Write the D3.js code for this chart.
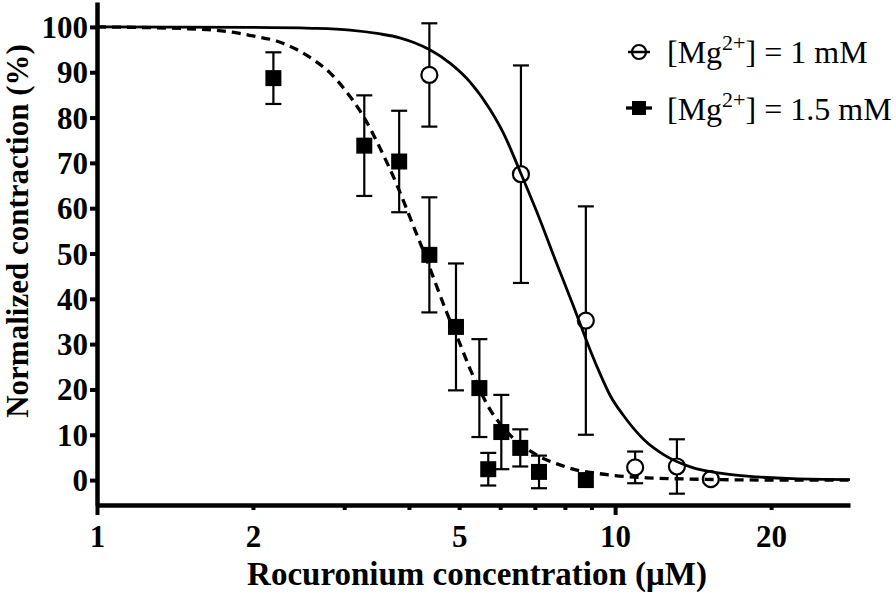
<!DOCTYPE html>
<html><head><meta charset="utf-8">
<script src="https://cdn.jsdelivr.net/npm/d3@7"></script>
<style>body{margin:0;background:#fff}</style>
</head><body><svg id="c" width="896" height="596"></svg>
<script>
// [Mg2+] = 1 mM (open circles)
const conc1 = [4.38, 6.58, 8.78, 10.93, 13.16, 15.3];
const mean1 = [89.4, 67.5, 35.2, 2.8, 3.0, 0.2];
const err1  = [11.4, 24.0, 25.2, 3.5, 6.0, 0];
// [Mg2+] = 1.5 mM (filled squares)
const conc15 = [2.19, 3.28, 3.83, 4.38, 4.93, 5.47, 5.69, 6.03, 6.56, 7.13, 8.78];
const mean15 = [88.7, 73.8, 70.3, 49.7, 33.8, 20.3, 2.4, 10.6, 7.1, 1.8, 0.0];
const err15  = [5.7, 11.1, 11.2, 12.7, 14.0, 10.8, 3.6, 8.2, 4.1, 3.6, 0];
// fitted curves, points
const fit1 = [[1,100],[2,99.9],[2.6,99.7],[3.08,99.3],[3.5,98.5],[3.84,97.6],[4.1,96.5],[4.38,95.0],[4.8,92.0],[5.25,87.8],[5.74,81.7],[6.09,76.5],[6.56,68.0],[7.06,59.2],[7.7,48.0],[8.3,38.5],[8.69,32.5],[9.0,28.0],[9.35,23.5],[9.8,18.5],[10.37,14.3],[11.37,8.9],[12.45,5.5],[13.97,2.9],[16.2,1.4],[18.8,0.7],[22,0.3],[28.4,0.1]];
const fit15 = [[1,100],[1.5,99.6],[1.86,98.7],[2.0,98.0],[2.22,96.9],[2.43,95.0],[2.62,92.7],[2.82,89.8],[3.01,86.1],[3.27,80.2],[3.52,73.2],[3.79,65.2],[4.02,57.9],[4.30,49.5],[4.5,43.5],[4.73,37.0],[5.0,30.5],[5.25,24.5],[5.5,19.5],[5.74,15.5],[6.0,12.4],[6.27,9.9],[6.7,7.2],[7.17,5.1],[7.8,3.4],[8.44,2.2],[9.2,1.5],[10,1.0],[11.5,0.5],[13,0.3],[16,0.1],[20,0],[28.4,0]];
// axes
const yTicks = [0,10,20,30,40,50,60,70,80,90,100];
const xTicks = [1,2,3,4,5,6,7,8,9,10,20];
const xLabels = [1,2,5,10,20];
const xMajor = [1,10];
const legendLabels = ["1 mM", "1.5 mM"];

const svg = d3.select("#c");
const FONT = "'Liberation Serif','Times New Roman',serif";
const x = d3.scaleLog().domain([1, 28.4]).range([97, 850]);
const y = d3.scaleLinear().domain([-5.5, 105.5]).range([505, 2]);

// Y axis
const ya = svg.append("g").attr("transform","translate(97,0)")
  .call(d3.axisLeft(y).tickValues(yTicks).tickSize(7).tickSizeOuter(0).tickFormat(d3.format("d")));
ya.select(".domain").attr("stroke","#000").attr("stroke-width",4.5);
ya.selectAll(".tick line").attr("stroke","#000").attr("stroke-width",4);
ya.selectAll(".tick text").attr("x",-9).attr("dy","0.34em")
  .attr("font-family",FONT).attr("font-weight","bold").attr("font-size",31).attr("fill","#000");

// X axis
const xa = svg.append("g").attr("transform","translate(0,505)")
  .call(d3.axisBottom(x).tickValues(xTicks).tickSize(5).tickSizeOuter(0)
    .tickFormat(d => xLabels.includes(d) ? String(d) : ""));
xa.select(".domain").attr("stroke","#000").attr("stroke-width",4.5);
xa.selectAll(".tick line").attr("stroke","#000").attr("stroke-width",4)
  .attr("y2", d => xMajor.includes(d) ? 10 : 5);
xa.selectAll(".tick text").attr("y",42).attr("dy",0)
  .attr("font-family",FONT).attr("font-weight","bold").attr("font-size",31).attr("fill","#000");

// Axis titles
svg.append("text").attr("x",477).attr("y",585).attr("text-anchor","middle")
  .attr("font-family",FONT).attr("font-weight","bold").attr("font-size",33)
  .text("Rocuronium concentration (\u03BCM)");
svg.append("text").attr("transform","translate(28,231) rotate(-90)").attr("text-anchor","middle")
  .attr("font-family",FONT).attr("font-weight","bold").attr("font-size",31)
  .text("Normalized contraction (%)");

const plot = svg.append("g");
const cap = 8;
function errBars(conc, mean, err){
  conc.forEach((c,i)=>{
    if(!err[i]) return;
    const g = plot.append("g").attr("stroke","#000").attr("stroke-width",2.2);
    const cx = x(c), y1 = y(mean[i]+err[i]), y2 = y(mean[i]-err[i]);
    g.append("line").attr("x1",cx).attr("x2",cx).attr("y1",y1).attr("y2",y2);
    g.append("line").attr("x1",cx-cap).attr("x2",cx+cap).attr("y1",y1).attr("y2",y1);
    g.append("line").attr("x1",cx-cap).attr("x2",cx+cap).attr("y1",y2).attr("y2",y2);
  });
}
errBars(conc1, mean1, err1);
errBars(conc15, mean15, err15);

plot.selectAll("circle.m1").data(conc1).join("circle").attr("class","m1")
  .attr("cx",d=>x(d)).attr("cy",(d,i)=>y(mean1[i])).attr("r",8)
  .attr("fill","#fff").attr("stroke","#000").attr("stroke-width",2.2);
plot.selectAll("rect.m15").data(conc15).join("rect").attr("class","m15")
  .attr("x",d=>x(d)-8).attr("y",(d,i)=>y(mean15[i])-8).attr("width",16).attr("height",16)
  .attr("fill","#000");

const line = d3.line().x(d=>x(d[0])).y(d=>y(d[1])).curve(d3.curveMonotoneX);
plot.append("path").attr("d",line(fit1)).attr("fill","none").attr("stroke","#000").attr("stroke-width",2.8);
plot.append("path").attr("d",line(fit15)).attr("fill","none").attr("stroke","#000")
  .attr("stroke-width",3.3).attr("stroke-dasharray","9,6");

// Legend
const lg = svg.append("g");
lg.append("circle").attr("cx",639).attr("cy",52).attr("r",7).attr("fill","#fff").attr("stroke","#000").attr("stroke-width",2.2);
lg.append("line").attr("x1",628).attr("x2",650).attr("y1",52).attr("y2",52).attr("stroke","#000").attr("stroke-width",2.5);
lg.append("rect").attr("x",632).attr("y",101).attr("width",14).attr("height",14).attr("fill","#000");
lg.append("line").attr("x1",626).attr("x2",652).attr("y1",108).attr("y2",108).attr("stroke","#000").attr("stroke-width",3.3);
legendLabels.forEach((lab,i)=>{
  const t = lg.append("text").attr("x",667).attr("y",[63,120][i])
    .attr("font-family",FONT).attr("font-size",32).attr("fill","#000");
  t.append("tspan").text("[Mg");
  t.append("tspan").attr("dy",-13).attr("font-size",22).text("2+");
  t.append("tspan").attr("dy",13).text("] = " + lab);
});
</script></body></html>
